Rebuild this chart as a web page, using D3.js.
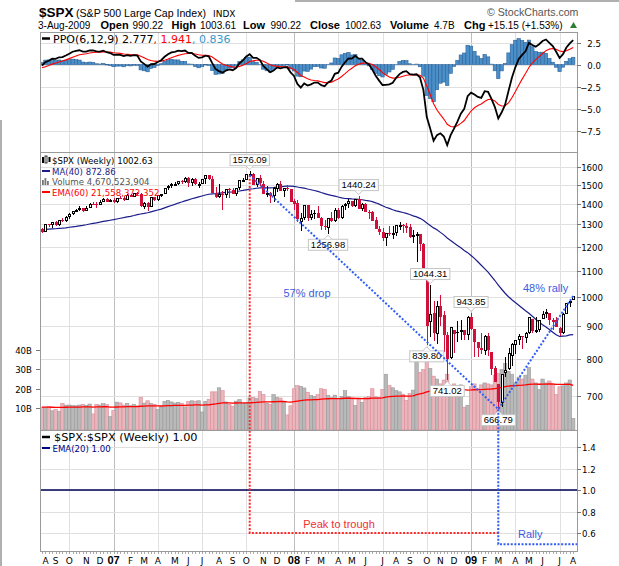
<!DOCTYPE html>
<html><head><meta charset="utf-8">
<script src="https://cdn.jsdelivr.net/npm/d3@7"></script>
<style>
body{margin:0;background:#fff;}
svg{display:block;}
</style></head><body>
<svg id="c" width="619" height="566"></svg>
<script>
// ---------------- DATA ----------------
const firstWeek = "2006-08-07"; // Monday of first weekly bar
const priorCloses = [1198.41,1220.14,1234.72,1248.27,1268.25,1265.08,1259.37,1267.32,1268.66,1248.29,
1285.45,1287.61,1261.49,1283.72,1264.03,1266.99,1287.24,1289.43,1287.23,1281.42,
1307.25,1302.95,1294.83,1295.50,1289.12,1311.28,1310.61,1325.76,1291.24,1267.03,
1280.16,1288.22,1252.30,1251.54,1244.50,1270.20,1265.48,1236.20,1240.29,1278.55,1279.36];
const opens = [1279.3,1266.7,1302.3,1295.1,1311.0,1298.9,1319.6,1314.8,1335.8,1349.6,
1365.6,1368.6,1377.3,1364.3,1380.9,1401.2,1400.9,1396.7,1409.8,1427.1,
1410.8,1418.0,1409.3,1430.7,1430.5,1422.0,1448.3,1438.0,1455.5,1451.0,
1387.1,1402.8,1386.9,1436.1,1420.8,1443.8,1452.8,1484.3,1494.1,1505.6,
1505.8,1522.7,1515.7,1536.3,1507.6,1532.9,1502.6,1504.7,1530.4,1552.5,
1534.1,1458.9,1433.0,1453.4,1445.9,1479.4,1473.9,1453.5,1484.2,1525.8,
1527.3,1557.6,1562.0,1497.7,1536.9,1505.6,1453.4,1456.7,1440.7,1479.6,
1505.1,1465.1,1484.6,1475.2,1414.1,1402.9,1312.9,1330.5,1395.4,1331.9,
1355.9,1352.8,1330.4,1293.2,1283.2,1330.0,1315.9,1370.2,1332.2,1390.1,
1397.9,1415.3,1389.4,1425.3,1375.9,1400.1,1360.8,1360.0,1319.8,1278.1,
1262.9,1239.5,1260.7,1257.8,1260.3,1296.3,1298.1,1290.5,1287.8,1249.5,
1250.9,1255.4,1209.1,1097.6,912.8,943.5,874.3,968.7,936.8,873.2,
801.2,888.6,882.7,881.1,887.2,872.4,929.2,890.4,849.6,832.5,
823.1,868.2,818.6,773.7,729.6,683.0,758.8,771.5,809.1,839.8,
856.9,868.3,862.8,879.2,922.9,886.1,887.0,923.3,940.3,943.4,
918.1,919.9,894.3,879.6,940.6,978.6,990.22];
const highs = [1283.0,1302.6,1302.3,1312.0,1314.7,1319.9,1328.5,1340.3,1353.8,1366.6,
1372.9,1389.5,1381.5,1388.6,1403.8,1407.9,1407.7,1418.3,1431.6,1431.8,
1427.7,1429.4,1431.2,1441.6,1440.7,1452.4,1452.0,1457.6,1461.6,1456.8,
1410.2,1410.4,1437.7,1437.7,1444.9,1453.1,1484.7,1498.0,1510.3,1518.0,
1522.8,1529.3,1540.6,1540.5,1538.7,1540.0,1514.3,1532.4,1555.1,1555.9,
1547.2,1488.3,1503.9,1466.3,1479.4,1481.5,1481.5,1485.0,1529.3,1538.7,
1561.9,1576.09,1564.7,1535.5,1552.8,1520.0,1492.1,1460.2,1488.9,1510.6,
1523.6,1485.4,1498.9,1475.8,1423.9,1420.0,1355.1,1396.0,1395.4,1370.1,
1367.9,1388.3,1335.1,1321.7,1330.7,1359.7,1380.9,1378.0,1395.9,1404.6,
1422.7,1415.3,1425.8,1440.24,1406.3,1404.1,1370.6,1366.6,1335.6,1292.7,
1285.7,1262.3,1291.2,1290.4,1297.9,1313.2,1300.2,1305.3,1303.0,1274.4,
1265.1,1255.5,1215.8,1097.6,1044.31,985.4,984.4,1007.5,951.9,882.3,
896.3,888.6,918.6,918.9,887.4,934.7,943.85,890.4,849.6,877.9,
870.7,877.0,818.6,780.1,729.6,758.3,804.5,832.9,845.6,856.9,
875.6,869.6,880.5,930.2,922.9,930.2,920.0,951.1,956.2,943.4,
928.0,931.9,898.7,943.9,979.8,993.2,1003.61];
const lows = [1261.0,1266.7,1287.7,1284.9,1294.5,1290.9,1311.2,1311.6,1327.1,1344.5,
1360.9,1363.1,1360.8,1364.3,1379.0,1398.1,1377.8,1396.7,1409.8,1409.5,
1410.5,1403.9,1403.4,1424.3,1416.6,1420.6,1433.4,1433.4,1448.6,1386.6,
1373.5,1363.9,1386.9,1413.7,1416.4,1436.1,1452.8,1474.6,1481.8,1491.3,
1497.1,1505.2,1510.0,1487.0,1492.7,1501.0,1484.2,1504.7,1506.1,1529.0,
1458.9,1430.5,1429.4,1370.6,1430.5,1432.0,1449.0,1439.3,1471.0,1516.9,
1527.3,1546.7,1500.6,1489.6,1492.5,1451.2,1435.8,1406.1,1407.7,1460.7,
1467.5,1435.7,1468.6,1411.2,1370.2,1313.3,1270.1,1322.0,1316.8,1320.0,
1325.6,1330.6,1272.7,1274.0,1256.98,1312.8,1312.8,1328.0,1324.4,1370.3,
1379.6,1384.1,1386.1,1373.1,1364.6,1358.5,1326.9,1317.9,1278.0,1252.0,
1225.4,1200.4,1245.9,1234.4,1247.5,1274.6,1261.2,1262.1,1236.8,1217.8,
1133.5,1180.0,1097.6,839.80,865.8,852.9,845.3,899.7,818.7,741.02,
798.3,815.7,851.4,857.1,857.1,857.3,888.3,804.3,804.5,814.4,
812.0,809.0,754.3,734.5,666.79,672.9,749.0,768.5,779.8,814.5,
840.6,827.3,847.1,875.7,878.9,878.9,881.5,923.3,927.2,903.8,
888.9,896.1,869.3,875.0,940.6,965.9,990.22];
const closes = [1266.74,1302.30,1295.09,1311.01,1298.92,1319.66,1314.78,1335.85,1349.59,1365.62,
1368.60,1377.34,1364.30,1380.90,1401.20,1400.95,1396.71,1409.84,1427.09,1410.76,
1418.30,1409.71,1430.73,1430.50,1422.18,1448.39,1438.06,1455.54,1451.19,1387.17,
1402.84,1386.95,1436.11,1420.86,1443.76,1452.85,1484.35,1494.07,1505.62,1505.85,
1522.75,1515.73,1536.34,1507.67,1532.91,1502.56,1503.35,1530.44,1552.50,1534.10,
1458.95,1433.06,1453.64,1445.94,1479.37,1473.99,1453.55,1484.25,1525.75,1526.75,
1557.59,1561.80,1500.63,1535.28,1509.65,1453.70,1458.74,1440.70,1481.14,1504.66,
1467.95,1484.46,1478.49,1411.63,1401.02,1325.19,1330.61,1395.42,1331.29,1349.99,
1353.11,1330.63,1293.37,1288.14,1329.51,1315.22,1370.40,1332.83,1390.33,1397.84,
1413.90,1388.28,1425.35,1375.93,1400.38,1360.68,1360.03,1317.93,1278.38,1262.90,
1239.49,1260.68,1257.76,1260.31,1296.32,1298.20,1292.20,1282.83,1242.31,1251.70,
1255.08,1213.27,1099.23,899.22,940.55,876.77,968.75,930.99,873.29,800.03,
896.24,876.07,879.73,887.88,872.80,931.80,890.35,850.12,831.95,825.88,
868.60,826.84,770.05,735.09,683.38,756.55,768.54,815.94,842.50,856.56,
869.60,866.23,877.52,929.23,882.88,887.00,919.14,940.09,946.21,921.23,
918.90,896.42,879.13,940.38,979.26,987.48,1002.63];
const volumes = [10.5,10.3,10.9,8.6,9.2,8.4,12.4,11.5,11.6,11.3,
11.2,11.6,12.0,11.4,12.1,7.0,12.0,11.6,12.3,11.8,
5.6,8.8,13.1,12.7,11.6,12.4,11.3,12.0,11.2,15.6,
12.6,13.8,12.4,12.0,9.2,10.6,13.5,14.0,13.2,12.6,
13.0,12.4,10.6,13.4,13.8,13.6,13.8,8.0,13.5,14.6,
18.4,18.4,20.5,19.0,13.2,12.0,11.0,13.6,14.4,12.3,
12.6,15.3,15.6,15.0,18.6,17.0,12.4,12.0,17.0,15.5,
15.2,13.0,6.5,11.2,20.0,21.6,21.2,20.4,18.2,16.5,
16.0,17.0,20.0,19.6,16.5,15.4,16.7,15.0,16.0,19.0,
15.9,14.6,11.4,15.0,13.0,15.6,16.0,20.0,15.8,15.4,
19.6,27.5,21.6,20.5,19.0,18.4,17.2,14.0,17.5,19.3,
34.8,28.5,30.0,36.8,30.5,26.5,25.0,22.5,24.5,27.5,
19.0,22.5,20.5,22.0,10.5,11.5,21.0,22.5,20.0,22.0,
23.0,22.5,22.0,27.0,28.0,30.0,33.0,29.0,27.5,23.0,
26.0,25.0,27.0,31.0,25.0,23.0,19.5,25.0,23.0,24.0,
22.0,17.0,21.0,21.5,23.0,24.5,4.67];
const priceTicks = [700,800,900,1000,1100,1200,1300,1400,1500,1600];
const ppoTicks = [2.5,0,-2.5,-5,-7.5];
const volTicks = [10,20,30,40];
const ratioTicks = [1.4,1.2,1.0,0.8,0.6];
const highLabels = [1576.09,1440.24,1044.31,943.85];
const lowLabels = [1256.98,839.80,741.02,666.79];
const monthLetters = ["J","F","M","A","M","J","J","A","S","O","N","D"];
const headerItems = [["3-Aug-2009",false],["Open",true],["990.22",false],["High",true],["1003.61",false],["Low",true],["990.22",false],["Close",true],["1002.63",false],["Volume",true],["4.7B",false],["Chg",true],["+15.15 (+1.53%)",false]];
const headerX = [38,100.5,132.5,171.5,200,243,270.5,310,345,390,434,464,488];

// ---------------- LAYOUT ----------------
const svg = d3.select("#c");
const L=40, R=577, T1=32, B1=152, B2=430, B3=551;
const n = closes.length;
const ARIAL="'Liberation Sans', Arial, sans-serif", VER="'DejaVu Sans', Verdana, sans-serif";
const x = d3.scaleLinear().domain([0,n-1]).range([42,573.2]);
const yP = d3.scaleLog().domain([700,1600]).range([395.7,167]);
const yO = d3.scaleLinear().domain([-7.5,2.5]).range([131,42.5]);
const yV = d3.scaleLinear().domain([0,40]).range([427.5,350]);
const yR = d3.scaleLinear().domain([0.6,1.4]).range([533,447]);
const px = i => Math.round(x(i));

function txt(g,xx,yy,s,o={}){
  const t=g.append("text").attr("x",xx).attr("y",yy).text(s)
   .style("font-family",o.ff||ARIAL).style("font-size",(o.fs||11)+"px").attr("fill",o.fill||"#000");
  if(o.fw) t.style("font-weight",o.fw);
  if(o.anchor) t.attr("text-anchor",o.anchor);
  return t;
}

// indicators
const all = priorCloses.concat(closes);
function ema(arr,p){const k=2/(p+1);let e=arr[0];return arr.map((v,i)=>{if(i>0)e=v*k+e*(1-k);return e;});}
const e6=ema(all,6), e12=ema(all,12);
const ppoAll = all.map((v,i)=>(e6[i]-e12[i])/e12[i]*100);
const sigAll = ema(ppoAll,9);
const off = priorCloses.length;
const ppo = ppoAll.slice(off), sig = sigAll.slice(off), hist = ppo.map((v,i)=>v-sig[i]);
const ma40 = closes.map((c,i)=>d3.mean(all.slice(i+off-39,i+off+1)));
const volEma = ema(volumes,60);
const prevClose = i => i===0 ? priorCloses[priorCloses.length-1] : closes[i-1];

// dates / months
const start = d3.timeParse("%Y-%m-%d")(firstWeek);
const weeks = d3.range(n).map(i=>d3.timeDay.offset(start,7*i));
const monthStarts = [];
weeks.forEach((d,i)=>{ if(i===0 || d.getMonth()!==weeks[i-1].getMonth()) monthStarts.push({i, m:d.getMonth(), y:d.getFullYear()}); });

// frame
svg.append("line").attr("x1",1).attr("x2",1).attr("y1",120).attr("y2",566).attr("stroke","#b0b0b0").attr("stroke-width",2);
svg.append("line").attr("x1",295).attr("x2",619).attr("y1",1).attr("y2",1).attr("stroke","#b0b0b0").attr("stroke-width",2);

// grid
const grid = svg.append("g").attr("shape-rendering","crispEdges");
monthStarts.filter(m=>m.m%3===0).forEach(m=>{
  grid.append("line").attr("x1",px(m.i)+0.5).attr("x2",px(m.i)+0.5).attr("y1",T1).attr("y2",B3)
   .attr("stroke",m.m===0?"#bdbdbd":"#e0e0e0");
});
ppoTicks.forEach(t=>grid.append("line").attr("x1",L).attr("x2",R).attr("y1",Math.round(yO(t))+0.5).attr("y2",Math.round(yO(t))+0.5).attr("stroke","#e0e0e0"));
priceTicks.forEach(t=>grid.append("line").attr("x1",L).attr("x2",R).attr("y1",Math.round(yP(t))+0.5).attr("y2",Math.round(yP(t))+0.5).attr("stroke","#e0e0e0"));
ratioTicks.forEach(t=>grid.append("line").attr("x1",L).attr("x2",R).attr("y1",Math.round(yR(t))+0.5).attr("y2",Math.round(yR(t))+0.5).attr("stroke","#e0e0e0"));

// ---------------- PPO PANEL ----------------
const gO = svg.append("g");
gO.selectAll("rect.h").data(hist).join("rect")
  .attr("x",(d,i)=>x(i)-1.7).attr("width",3.4)
  .attr("y",d=>Math.min(yO(d),yO(0))).attr("height",d=>Math.abs(yO(d)-yO(0)))
  .attr("fill","#4b8fc9").attr("stroke","#2d6299").attr("stroke-width",0.6);
gO.append("path").datum(sig).attr("d",d3.line().x((d,i)=>x(i)).y(d=>yO(d)))
  .attr("fill","none").attr("stroke","#ff0000").attr("stroke-width",1.1);
gO.append("path").datum(ppo).attr("d",d3.line().x((d,i)=>x(i)).y(d=>yO(d)))
  .attr("fill","none").attr("stroke","#000").attr("stroke-width",1.8);
gO.append("line").attr("x1",42).attr("x2",50).attr("y1",38.5).attr("y2",38.5).attr("stroke","#000").attr("stroke-width",2.5);
const lg = txt(gO,53,42.5,"",{ff:VER,fs:11});
lg.append("tspan").text("PPO(6,12,9) 2.777");
lg.append("tspan").attr("fill","#ff0000").text(", 1.941");
lg.append("tspan").attr("fill","#3399cc").text(", 0.836");

// ---------------- MAIN PANEL ----------------
const gM = svg.append("g");
// volume
gM.selectAll("rect.v").data(volumes).join("rect")
  .attr("x",(d,i)=>x(i)-1.7).attr("width",3.4)
  .attr("y",d=>yV(d)).attr("height",d=>B2-yV(d))
  .attr("fill",(d,i)=>closes[i]<prevClose(i)?"#e8b6bc":"#b9b9b9")
  .attr("stroke",(d,i)=>closes[i]<prevClose(i)?"#dc8c97":"#999999").attr("stroke-width",0.6);
gM.append("path").datum(volEma).attr("d",d3.line().x((d,i)=>x(i)).y(d=>yV(d)))
  .attr("fill","none").attr("stroke","#ff0000").attr("stroke-width",1.3);
// MA(40)
gM.append("path").datum(ma40).attr("d",d3.line().x((d,i)=>x(i)).y(d=>yP(d)))
  .attr("fill","none").attr("stroke","#1c1c8a").attr("stroke-width",1.2);
// candles
const gC = gM.append("g").attr("shape-rendering","crispEdges");
closes.forEach((c,i)=>{
  const o=opens[i], up = c>=prevClose(i), col = up?"#000":"#d0103a", cx=px(i);
  gC.append("line").attr("x1",cx+0.5).attr("x2",cx+0.5).attr("y1",yP(highs[i])).attr("y2",yP(lows[i])).attr("stroke",col);
  const top=Math.round(yP(Math.max(o,c))), bot=Math.max(Math.round(yP(Math.min(o,c))),top+1);
  if(c>o){
    gC.append("rect").attr("x",cx-0.5).attr("y",top+0.5).attr("width",2).attr("height",Math.max(bot-top-1,1)).attr("fill","#fff").attr("stroke",col);
  } else {
    gC.append("rect").attr("x",cx-1).attr("y",top).attr("width",3).attr("height",bot-top).attr("fill",col);
  }
});
// legend
const lgM = gM.append("g");
lgM.append("rect").attr("x",42).attr("y",157).attr("width",2).attr("height",6).attr("fill","#000");
lgM.append("rect").attr("x",45).attr("y",156).attr("width",2).attr("height",7).attr("fill","#fff").attr("stroke","#000").attr("stroke-width",0.8);
lgM.append("rect").attr("x",48.5).attr("y",157).attr("width",2).attr("height",5).attr("fill","#000");
txt(lgM,52,164,"$SPX (Weekly) 1002.63",{ff:VER,fs:8.6});
lgM.append("line").attr("x1",42).attr("x2",50).attr("y1",171).attr("y2",171).attr("stroke","#1c1c8a").attr("stroke-width",2);
txt(lgM,52,174.5,"MA(40) 872.86",{ff:VER,fs:8.6,fill:"#1c1c8a"});
[[42,5],[44.5,7],[47,4]].forEach(b=>lgM.append("rect").attr("x",b[0]).attr("y",185-b[1]).attr("width",1.8).attr("height",b[1]).attr("fill","#777"));
txt(lgM,52,185,"Volume 4,670,523,904",{ff:VER,fs:8.6,fill:"#555"});
lgM.append("line").attr("x1",42).attr("x2",50).attr("y1",192).attr("y2",192).attr("stroke","#ff0000").attr("stroke-width",2);
txt(lgM,52,195.5,"EMA(60) 21,558,372,352",{ff:VER,fs:8.6,fill:"#ff0000"});

// value label boxes
function valueBox(v, isHigh){
  const i = isHigh ? highs.indexOf(v) : lows.indexOf(v);
  const cx = x(i), yy = yP(v);
  const g = gM.append("g");
  const t = txt(g,cx,0,v.toFixed(2),{ff:ARIAL,fs:9.5,anchor:"middle"});
  const w = t.node().getComputedTextLength()+5, h=11;
  const top = isHigh ? yy-5.5-h : yy+5.5;
  t.attr("y",top+8.6);
  g.insert("rect","text").attr("x",cx-w/2).attr("y",top).attr("width",w).attr("height",h).attr("fill","#fff").attr("stroke","#c4c4c4");
  const e = isHigh ? top+h : top, d = isHigh ? 4 : -4;
  g.insert("path","text").attr("d",`M${cx-4},${e}L${cx},${e+d}L${cx+4},${e}`).attr("fill","#fff").attr("stroke","#c4c4c4");
}
highLabels.forEach(v=>valueBox(v,true));
lowLabels.forEach(v=>valueBox(v,false));

// ---------------- LOWER PANEL ----------------
const gR = svg.append("g");
gR.append("line").attr("x1",L).attr("x2",R).attr("y1",yR(1)).attr("y2",yR(1)).attr("stroke","#000").attr("stroke-width",1.2);
gR.append("line").attr("x1",L).attr("x2",R).attr("y1",yR(1)).attr("y2",yR(1)).attr("stroke","#000080").attr("stroke-width",1.2);
gR.append("line").attr("x1",42).attr("x2",50).attr("y1",437).attr("y2",437).attr("stroke","#000").attr("stroke-width",2.5);
txt(gR,54,441,"$SPX:$SPX (Weekly) 1.00",{ff:VER,fs:11.3});
gR.append("line").attr("x1",42).attr("x2",50).attr("y1",448).attr("y2",448).attr("stroke","#000080").attr("stroke-width",2);
txt(gR,52.5,451.5,"EMA(20) 1.00",{ff:VER,fs:8.6,fill:"#000080"});

// ---------------- ANNOTATIONS ----------------
const iPk = highs.indexOf(d3.max(highs)), iLo = lows.indexOf(d3.min(lows));
const xPk = x(iPk), yPk = yP(highs[iPk]), xLo = x(iLo), yLo = yP(lows[iLo]);
const xEnd = x(n-1), yEnd = yP(highs[n-1]);
const gA = svg.append("g").attr("fill","none").attr("stroke-width",2);
gA.append("path").attr("d",`M${xPk},${yPk+4}L${xPk},${yR(0.6)}L${xLo+1},${yR(0.6)}`).attr("stroke","#ff2a2a").attr("stroke-dasharray","2,1.6");
gA.append("path").attr("d",`M${xPk},${yPk+4}L${xLo},${yLo}L${xEnd},${yEnd}`).attr("stroke","#2f5df5").attr("stroke-dasharray","2,1.8");
gA.append("path").attr("d",`M${xLo},${yLo}L${xLo},${yR(0.495)}L${R+2},${yR(0.495)}`).attr("stroke","#2f5df5").attr("stroke-dasharray","2,1.6");
txt(svg,307,297,"57% drop",{fs:11,fill:"#3a5de0",anchor:"middle"});
txt(svg,523,292,"48% rally",{fs:11,fill:"#3a5de0"});
txt(svg,339,528,"Peak to trough",{fs:11,fill:"#f03030",anchor:"middle"});
txt(svg,518,538,"Rally",{fs:11,fill:"#3a5de0"});

// ---------------- BORDERS & AXES ----------------
const gB = svg.append("g").attr("shape-rendering","crispEdges").attr("stroke","#9a9a9a").attr("fill","none");
gB.append("rect").attr("x",L+0.5).attr("y",T1+0.5).attr("width",R-L).attr("height",B3-T1);
gB.append("line").attr("x1",L).attr("x2",R).attr("y1",B1+0.5).attr("y2",B1+0.5);
gB.append("line").attr("x1",L).attr("x2",R).attr("y1",B2+0.5).attr("y2",B2+0.5);

const gAx = svg.append("g");
function rightAxis(scale, ticks, fmt, anchorX, anchor){
  ticks.forEach(t=>{
    const yy=Math.round(scale(t))+0.5;
    gAx.append("line").attr("x1",R).attr("x2",R+4).attr("y1",yy).attr("y2",yy).attr("stroke","#777").attr("shape-rendering","crispEdges");
    txt(gAx,anchorX,yy+3.2,fmt(t),{ff:VER,fs:8.6,anchor});
  });
}
rightAxis(yO,ppoTicks,d3.format(".1f"),601,"end");
rightAxis(yP,priceTicks,d3.format("d"),603,"end");
rightAxis(yR,ratioTicks,d3.format(".1f"),582,"start");
volTicks.forEach(t=>{
  const yy=Math.round(yV(t))+0.5;
  gAx.append("line").attr("x1",L-4).attr("x2",L).attr("y1",yy).attr("y2",yy).attr("stroke","#777").attr("shape-rendering","crispEdges");
  txt(gAx,32,yy+3.2,t+"B",{ff:VER,fs:8.6,anchor:"end"});
});
// x axis ticks + labels
d3.range(n).forEach(i=>gAx.append("line").attr("x1",px(i)+0.5).attr("x2",px(i)+0.5).attr("y1",B3+1).attr("y2",B3+3).attr("stroke","#aaa").attr("shape-rendering","crispEdges"));
monthStarts.forEach(m=>{
  const xx = Math.max(x(m.i),45.5);
  if(m.m===0) txt(gAx,xx,564,String(m.y).slice(2),{ff:ARIAL,fs:11,fw:"bold",anchor:"middle"});
  else txt(gAx,xx,563.5,monthLetters[m.m],{ff:VER,fs:9,anchor:"middle"});
});

// ---------------- HEADER ----------------
txt(svg,39,17,"$SPX",{fs:13.5,fw:"bold"});
txt(svg,76,17,"(S&P 500 Large Cap Index)",{fs:10.6});
txt(svg,213,17,"INDX",{ff:VER,fs:9});
txt(svg,487,15.5,"© StockCharts.com",{fs:10.6,fill:"#555"});
headerItems.forEach((h,k)=>txt(svg,headerX[k],29,h[0],{fs:h[1]?11:10,fw:h[1]?"bold":null}));
svg.append("path").attr("d","M570,28L573.5,22L577,28Z").attr("fill","#2e7d32");
</script>
</body></html>
